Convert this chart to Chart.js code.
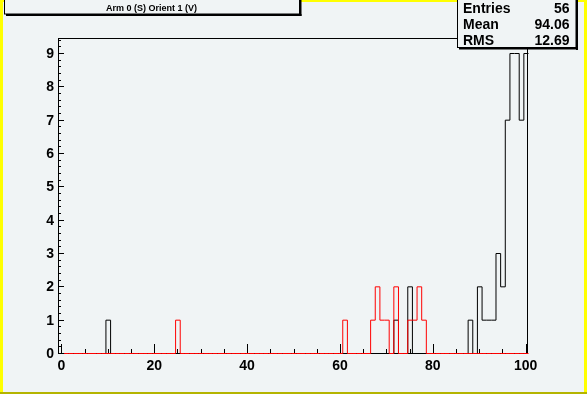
<!DOCTYPE html>
<html>
<head>
<meta charset="utf-8">
<script src="https://cdn.jsdelivr.net/npm/chart.js@4.4.1/dist/chart.umd.min.js"></script>
<style>
  html, body { margin: 0; padding: 0; background: #f0f4f5; }
  #wrap { width: 587px; height: 394px; }
</style>
</head>
<body>
<div id="wrap"><canvas id="c" width="587" height="394"></canvas></div>
<script>
  "use strict";

  // histogram: 101 bins centred on 0..100 (range -0.5 .. 100.5)
  const nBins = 101;
  const titleText = "Arm 0 (S) Orient 1 (V)";
  const statLabels = ["Entries", "Mean", "RMS"];
  const statValues = ["56", "94.06", "12.69"];

  const blackBins = [10, 72, 75, 88, 90, 91, 92, 93, 94, 95, 96, 97, 98, 99, 100];
  const blackCounts = [1, 1, 2, 1, 2, 1, 1, 1, 3, 2, 7, 9, 9, 7, 9];
  const redBins = [25, 61, 67, 68, 69, 70, 72, 75, 76, 77, 78];
  const redCounts = [1, 1, 1, 2, 1, 1, 2, 1, 1, 2, 1];

  const xTicks = [0, 20, 40, 60, 80, 100];
  const yTicks = [0, 1, 2, 3, 4, 5, 6, 7, 8, 9];

  const padColor = "#f0f4f5";
  const fontFamily = "'Liberation Sans', Arial, Helvetica, sans-serif";

  function stepPoints(bins, counts) {
    const full = new Array(nBins).fill(0);
    bins.forEach((b, i) => { full[b] = counts[i]; });
    const pts = full.map((v, i) => ({ x: i - 0.5, y: v }));
    pts.push({ x: nBins - 0.5, y: full[nBins - 1] });
    return pts;
  }

  function crisp(v) {
    return Math.round(v) + 0.5;
  }

  const padPlugin = {
    id: "pad",
    beforeDraw(chart) {
      const ctx = chart.ctx;
      const w = chart.width, h = chart.height;
      ctx.save();
      ctx.fillStyle = padColor;
      ctx.fillRect(0, 0, w, h);
      // bevel border
      ctx.fillStyle = "#ffff00";
      ctx.fillRect(0, 0, w, 2);
      ctx.fillRect(0, 0, 3, h);
      ctx.fillRect(w - 3, 0, 3, h);
      ctx.fillStyle = "#b4b400";
      ctx.fillRect(0, h - 2, w, 2);
      ctx.restore();
    },
    beforeDatasetsDraw(chart) {
      const ctx = chart.ctx;
      const a = chart.chartArea;
      ctx.save();
      ctx.strokeStyle = "#000";
      ctx.lineWidth = 1;
      ctx.strokeRect(crisp(a.left) - 1, crisp(a.top) - 1, Math.round(a.right - a.left), Math.round(a.bottom - a.top));
      ctx.restore();
      // half-pixel shift so the 1px outlines stay sharp
      ctx.save();
      ctx.translate(0.5, -0.5);
    },
    afterDatasetsDraw(chart) {
      const ctx = chart.ctx;
      ctx.restore();
      const a = chart.chartArea;
      const xs = chart.scales.x, ys = chart.scales.y;
      ctx.save();
      ctx.strokeStyle = "#000";
      ctx.lineWidth = 1;
      ctx.beginPath();
      // y axis ticks (inside the frame)
      for (let k = 0; k <= 47; k++) {
        const v = k * 0.2;
        if (v > ys.max) break;
        const y = crisp(ys.getPixelForValue(v)) - 1;
        const len = (k % 5 === 0) ? 6 : 3;
        ctx.moveTo(a.left - 1, y);
        ctx.lineTo(a.left - 1 + len, y);
      }
      // x axis ticks
      for (let v = 0; v <= 100; v += 5) {
        const x = crisp(xs.getPixelForValue(v));
        const len = (v % 20 === 0) ? 9 : 4;
        ctx.moveTo(x, a.bottom - 1);
        ctx.lineTo(x, a.bottom - 1 - len);
      }
      ctx.stroke();
      ctx.restore();
    },
    afterDraw(chart) {
      const ctx = chart.ctx;
      ctx.save();
      ctx.lineWidth = 1;
      ctx.strokeStyle = "#000";

      // title box
      ctx.fillStyle = padColor;
      ctx.fillRect(4, -2, 295, 16);
      ctx.strokeRect(4.5, -2.5, 295, 16.5);
      ctx.fillStyle = "#000";
      ctx.fillRect(300, 0, 1.5, 16);
      ctx.fillRect(6, 14, 295.5, 2);
      ctx.font = "bold 9px " + fontFamily;
      ctx.textAlign = "center";
      ctx.textBaseline = "middle";
      ctx.fillText(titleText, 151.5, 8.5);

      // stats box
      ctx.fillStyle = padColor;
      ctx.fillRect(457, -2, 119, 50);
      ctx.strokeRect(457.5, -2.5, 118.5, 50);
      ctx.fillStyle = "#000";
      ctx.fillRect(576, 0, 2, 50);
      ctx.fillRect(459, 47.5, 119, 2);
      ctx.font = "bold 14px " + fontFamily;
      ctx.textBaseline = "alphabetic";
      const rowY = [12.5, 28.8, 45];
      statLabels.forEach((s, i) => {
        ctx.textAlign = "left";
        ctx.fillText(s, 463, rowY[i]);
        ctx.textAlign = "right";
        ctx.fillText(statValues[i], 569.5, rowY[i]);
      });
      ctx.restore();
    }
  };

  const tickFont = { family: fontFamily, size: 14, weight: "bold" };

  new Chart(document.getElementById("c"), {
    type: "line",
    data: {
      datasets: [
        {
          label: "red",
          data: stepPoints(redBins, redCounts),
          borderColor: "#ff0000",
          borderWidth: 1,
          pointRadius: 0,
          stepped: "before",
          fill: false,
          order: 0,
          clip: 2,
        },
        {
          label: "black",
          data: stepPoints(blackBins, blackCounts),
          borderColor: "#000000",
          borderWidth: 1,
          pointRadius: 0,
          stepped: "before",
          fill: false,
          order: 1,
          clip: 2,
        },
      ],
    },
    options: {
      responsive: false,
      animation: false,
      devicePixelRatio: 1,
      layout: { padding: { left: 0, top: 39, right: 59, bottom: 0 } },
      plugins: { legend: { display: false }, tooltip: { enabled: false } },
      scales: {
        x: {
          type: "linear",
          min: -0.5,
          max: 100.5,
          afterFit: (s) => { s.height = 40; },
          afterBuildTicks: (s) => { s.ticks = xTicks.map((v) => ({ value: v })); },
          ticks: { color: "#000", font: tickFont, padding: 4, maxRotation: 0, includeBounds: false },
          grid: { display: false, drawTicks: false },
          border: { display: false },
        },
        y: {
          type: "linear",
          min: 0,
          max: 9.45,
          afterFit: (s) => { s.width = 59; },
          afterBuildTicks: (s) => { s.ticks = yTicks.map((v) => ({ value: v })); },
          ticks: { color: "#000", font: tickFont, padding: 5, includeBounds: false },
          grid: { display: false, drawTicks: false },
          border: { display: false },
        },
      },
    },
    plugins: [padPlugin],
  });
</script>
</body>
</html>
